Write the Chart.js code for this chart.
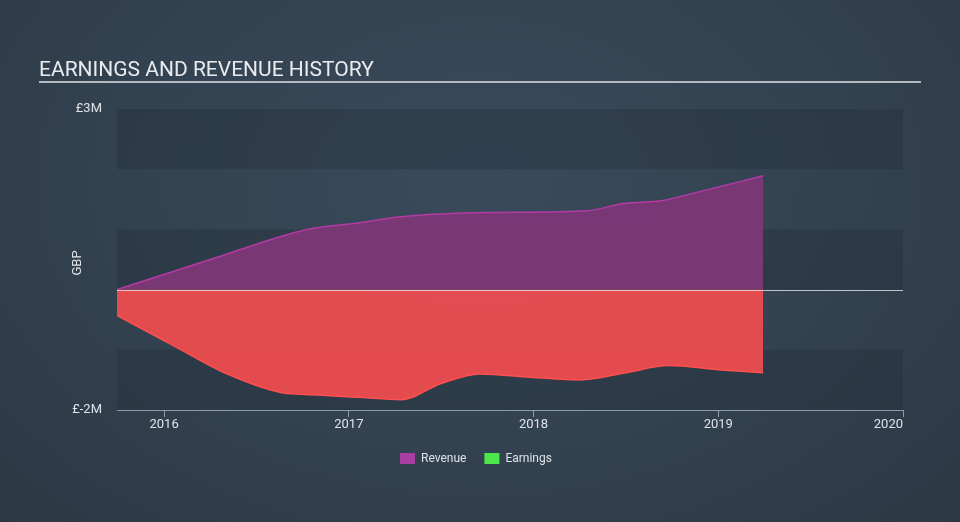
<!DOCTYPE html>
<html><head><meta charset="utf-8">
<script src="https://cdn.jsdelivr.net/npm/chart.js@4"></script>
<style>
html,body{margin:0;padding:0;}
body{width:960px;height:522px;overflow:hidden;background:radial-gradient(ellipse at 50% 35%, #394a5b 0%, #334250 55%, #2c3844 100%);}
canvas{display:block}
</style></head><body>
<canvas id="c" width="960" height="522"></canvas>
<script>
const titleText = 'EARNINGS AND REVENUE HISTORY';
const yearTicks = [2016, 2017, 2018, 2019, 2020];
const yTickValues = [3, 2, 1, 0, -1, -2];
const yTickLabels = {3: '£3M', '-2': '£-2M'};
const revenueX = [2015.745, 2016.25, 2016.774, 2017.06, 2017.28, 2017.75, 2018.29, 2018.485, 2018.70, 2018.85, 2019.243];
const revenueY = [0.0, 0.5, 1.0, 1.11, 1.21, 1.28, 1.31, 1.43, 1.48, 1.59, 1.89];
const earningsX = [2015.745, 2016.05, 2016.34, 2016.63, 2016.75, 2017.06, 2017.28, 2017.5, 2017.71, 2018.0, 2018.25, 2018.5, 2018.73, 2019.0, 2019.243];
const earningsY = [-0.43, -0.93, -1.40, -1.71, -1.74, -1.79, -1.83, -1.56, -1.40, -1.46, -1.50, -1.38, -1.26, -1.33, -1.38];
const legendItems = [{label: 'Revenue', color: '#a83ea0'}, {label: 'Earnings', color: '#4de64d'}];

const pts = (xs, ys) => xs.map((x, i) => ({x: x, y: ys[i]}));
const FONT = 'Roboto, "Open Sans", sans-serif';

const decor = {
  id: 'decor',
  beforeDatasetsDraw(chart) {
    const {ctx, chartArea: a, scales: {y}} = chart;
    ctx.save();
    ctx.fillStyle = 'rgba(28,38,50,0.28)';
    [[3, 2], [1, 0], [-1, -2]].forEach(([t, b]) => {
      const yt = y.getPixelForValue(t), yb = y.getPixelForValue(b);
      ctx.fillRect(a.left, yt, a.right - a.left, yb - yt);
    });
    ctx.restore();
  },
  afterDatasetsDraw(chart) {
    const {ctx, chartArea: a, scales: {y}} = chart;
    const y0 = Math.round(y.getPixelForValue(0)) + 0.5;
    ctx.save();
    ctx.strokeStyle = 'rgba(235,235,240,0.75)';
    ctx.lineWidth = 1;
    ctx.beginPath(); ctx.moveTo(a.left, y0); ctx.lineTo(a.right, y0); ctx.stroke();
    ctx.restore();
  },
  afterDraw(chart) {
    const {ctx, chartArea: a, scales: {x}} = chart;
    ctx.save();
    ctx.fillStyle = '#e9ecef';
    ctx.font = '21px ' + FONT;
    ctx.textBaseline = 'alphabetic';
    ctx.textAlign = 'left';
    ctx.fillText(titleText, 39, 76);
    ctx.fillStyle = '#b4bac2';
    ctx.fillRect(39, 81, 882, 2);
    ctx.save();
    ctx.translate(78, 263);
    ctx.rotate(-Math.PI / 2);
    ctx.font = '13px ' + FONT;
    ctx.fillStyle = '#dfe3e8';
    ctx.textAlign = 'center';
    ctx.textBaseline = 'middle';
    ctx.fillText('GBP', 0, 0);
    ctx.restore();
    ctx.font = '13px ' + FONT;
    ctx.fillStyle = '#dfe3e8';
    ctx.textBaseline = 'middle';
    yearTicks.forEach((yr, i) => {
      const px = x.getPixelForValue(yr);
      ctx.textAlign = i === yearTicks.length - 1 ? 'right' : 'center';
      ctx.fillText(String(yr), px, 425);
    });
    ctx.font = '12px ' + FONT;
    ctx.textAlign = 'left';
    let lx = 400;
    legendItems.forEach(it => {
      ctx.fillStyle = it.color;
      ctx.fillRect(lx, 453, 15, 11);
      ctx.fillStyle = '#dfe3e8';
      ctx.fillText(it.label, lx + 21, 458.5);
      lx += 21 + ctx.measureText(it.label).width + 18;
    });
    ctx.restore();
  }
};

new Chart(document.getElementById('c'), {
  type: 'line',
  data: {
    datasets: [
      {label: 'Revenue', data: pts(revenueX, revenueY), borderColor: '#b23ba4', backgroundColor: 'rgba(124,56,118,0.97)', borderWidth: 1.5, fill: 'origin', pointRadius: 0, cubicInterpolationMode: 'monotone'},
      {label: 'Earnings', data: pts(earningsX, earningsY), borderColor: '#ff4f4f', backgroundColor: 'rgba(233,76,80,0.97)', borderWidth: 1.5, fill: 'origin', pointRadius: 0, cubicInterpolationMode: 'monotone'}
    ]
  },
  options: {
    responsive: false,
    animation: false,
    devicePixelRatio: 1,
    layout: {padding: {left: 0, right: 57, top: 109, bottom: 0}},
    plugins: {legend: {display: false}, tooltip: {enabled: false}, title: {display: false}},
    scales: {
      x: {
        type: 'linear', min: 2015.745, max: 2020,
        afterBuildTicks(s) { s.ticks = yearTicks.map(v => ({value: v})); },
        afterFit(s) { s.height = 112; },
        ticks: {display: false},
        grid: {display: true, drawOnChartArea: false, drawTicks: true, tickLength: 7, color: '#8f9cab', lineWidth: 1},
        border: {display: true, color: '#8f9cab', width: 1}
      },
      y: {
        type: 'linear', min: -2, max: 3,
        afterBuildTicks(s) { s.ticks = yTickValues.map(v => ({value: v})); },
        afterFit(s) { s.width = 117; },
        ticks: {
          padding: 15, color: '#dfe3e8', font: {family: FONT, size: 13},
          callback: (v) => yTickLabels[v] || ''
        },
        grid: {display: false, drawTicks: false},
        border: {display: false}
      }
    }
  },
  plugins: [decor]
});
</script>
</body></html>
